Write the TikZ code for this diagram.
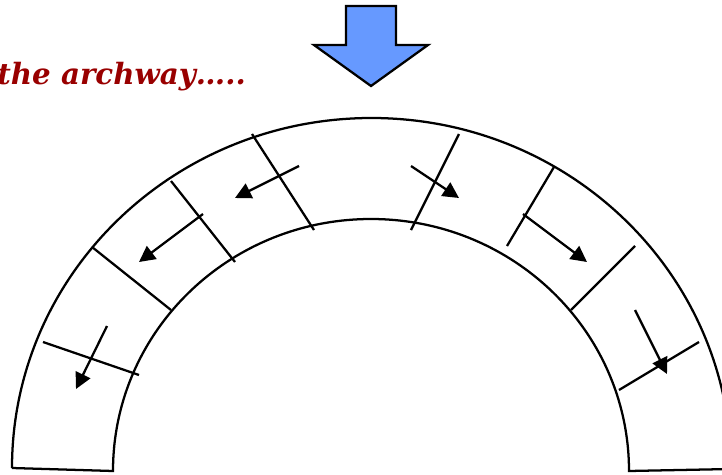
\documentclass[tikz,border=0pt]{standalone}
\usepackage{fontspec}
\setmainfont{DejaVu Serif}
\usetikzlibrary{arrows.meta}
\definecolor{archred}{HTML}{990000}
\definecolor{archblue}{HTML}{6699FF}
\tikzset{
  archline/.style={line width=1.7pt,black},
  joint/.style={archline},
  thrust/.style={archline,-{Triangle[length=12pt,width=12pt]}},
  label/.style={text=archred,font=\bfseries\itshape\fontsize{22pt}{24pt}\selectfont,inner sep=0pt,anchor=base west},
}
\begin{document}
\begin{tikzpicture}[x=0.75pt,y=-0.75pt]
\path[use as bounding box] (0,0) rectangle (722,475);
\clip (0,0) rectangle (722,475);
% arch outline
\draw[archline,line join=miter]
  (12,468) arc[start angle=180,end angle=360,x radius=359.5,y radius=350]
  (731,469) -- (629,471)
  arc[start angle=360,end angle=180,x radius=258,y radius=252]
  -- (12,468);
% joints
\draw[joint] (43,342) -- (139,375);
\draw[joint] (92,247) -- (171,310);
\draw[joint] (171,181) -- (235,262);
\draw[joint] (252,134) -- (314,230);
\draw[joint] (459,134) -- (411,230);
\draw[joint] (554,167) -- (507,246);
\draw[joint] (635,246) -- (571,310);
\draw[joint] (699,342) -- (619,390);
% thrust arrows
\draw[thrust] (107,326) -- (76,389);
\draw[thrust] (203,214) -- (139,262);
\draw[thrust] (299,166) -- (235,198);
\draw[thrust] (411,166) -- (459,198);
\draw[thrust] (523,214) -- (587,262);
\draw[thrust] (635,310) -- (667,374);
% load arrow
\draw[archline,fill=archblue,line join=miter]
  (346,6) -- (396,6) -- (396,45) -- (428,45) -- (371,86) -- (314,45) -- (346,45) -- cycle;
% caption
\node[label] (cap) at (-3,84) {the archway…..};
\end{tikzpicture}
\end{document}
